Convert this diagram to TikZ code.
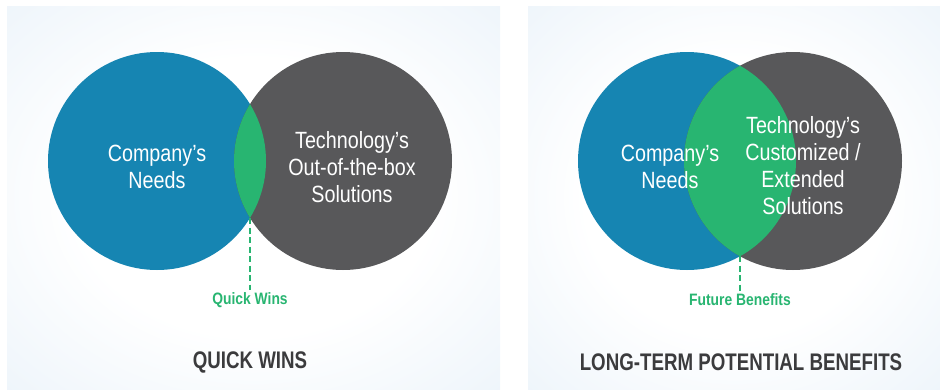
\documentclass[tikz,border=0pt]{standalone}
\usepackage{fontspec}
\newfontfamily\vennfont{Liberation Sans}[FakeStretch=0.84]
\newfontfamily\titlefont{Liberation Sans}[FakeStretch=0.78]

\definecolor{needblue}{HTML}{1685B2}
\definecolor{techgrey}{HTML}{58585A}
\definecolor{wingreen}{HTML}{28B571}
\definecolor{titlegrey}{HTML}{3B3B3D}
\definecolor{panelblue}{HTML}{DFECF7}
\pgfdeclareradialshading{panelglow}{\pgfpoint{0bp}{0bp}}{color(0bp)=(white); color(18bp)=(white); color(52bp)=(panelblue); color(75bp)=(panelblue)}

\tikzset{
    venntext/.style={text=white, align=center, font=\vennfont\fontsize{23.5}{27}\selectfont},
    gaintext/.style={text=wingreen, inner sep=2pt, font=\vennfont\bfseries\fontsize{16.5}{20}\selectfont},
    paneltitle/.style={text=titlegrey, font=\titlefont\bfseries\fontsize{24}{28}\selectfont},
    gainline/.style={wingreen, line width=2pt, dash pattern=on 6pt off 3.5pt}
}

\begin{document}
\begin{tikzpicture}[
    x=1pt, y=-1pt
]
    \useasboundingbox (0, 0) rectangle (940, 389);

    % Panels
    \foreach \xa/\xb in {7/500, 528/940} {
        \shade[shading=panelglow] (\xa, 6) rectangle (\xb, 389);
    }

    % Quick wins circles
    \fill[needblue] (157, 161) circle (109pt);
    \fill[techgrey] (343, 161) circle (109pt);
    \begin{scope}
        \clip (157, 161) circle (109pt);
        \fill[wingreen] (343, 161) circle (109pt);
    \end{scope}
    \coordinate (qlens) at (250, 218);

    % Long-term circles
    \fill[needblue] (687, 161) circle (109pt);
    \fill[techgrey] (793, 161) circle (109pt);
    \begin{scope}
        \clip (687, 161) circle (109pt);
        \fill[wingreen] (793, 161) circle (109pt);
    \end{scope}
    \coordinate (flens) at (740, 256);

    % Labels
    \node[venntext] (qneeds) at (157, 167) {Company’s\\Needs};
    \node[venntext] (qtech) at (352, 167) {Technology’s\\Out-of-the-box\\Solutions};
    \node[venntext] (fneeds) at (670, 167) {Company’s\\Needs};
    \node[venntext] (ftech) at (803, 166) {Technology’s\\Customized /\\Extended\\Solutions};

    % Overlaps
    \node[gaintext] (qwins) at (250, 300) {Quick Wins};
    \node[gaintext] (fbenefits) at (740, 300) {Future Benefits};
    \draw[gainline] (qlens) -- (qwins.north);
    \draw[gainline] (flens) -- (fbenefits.north);

    % Titles
    \node[paneltitle] (qtitle) at (250, 362) {QUICK WINS};
    \node[paneltitle] (ftitle) at (741, 362) {LONG-TERM POTENTIAL BENEFITS};
\end{tikzpicture}
\end{document}
